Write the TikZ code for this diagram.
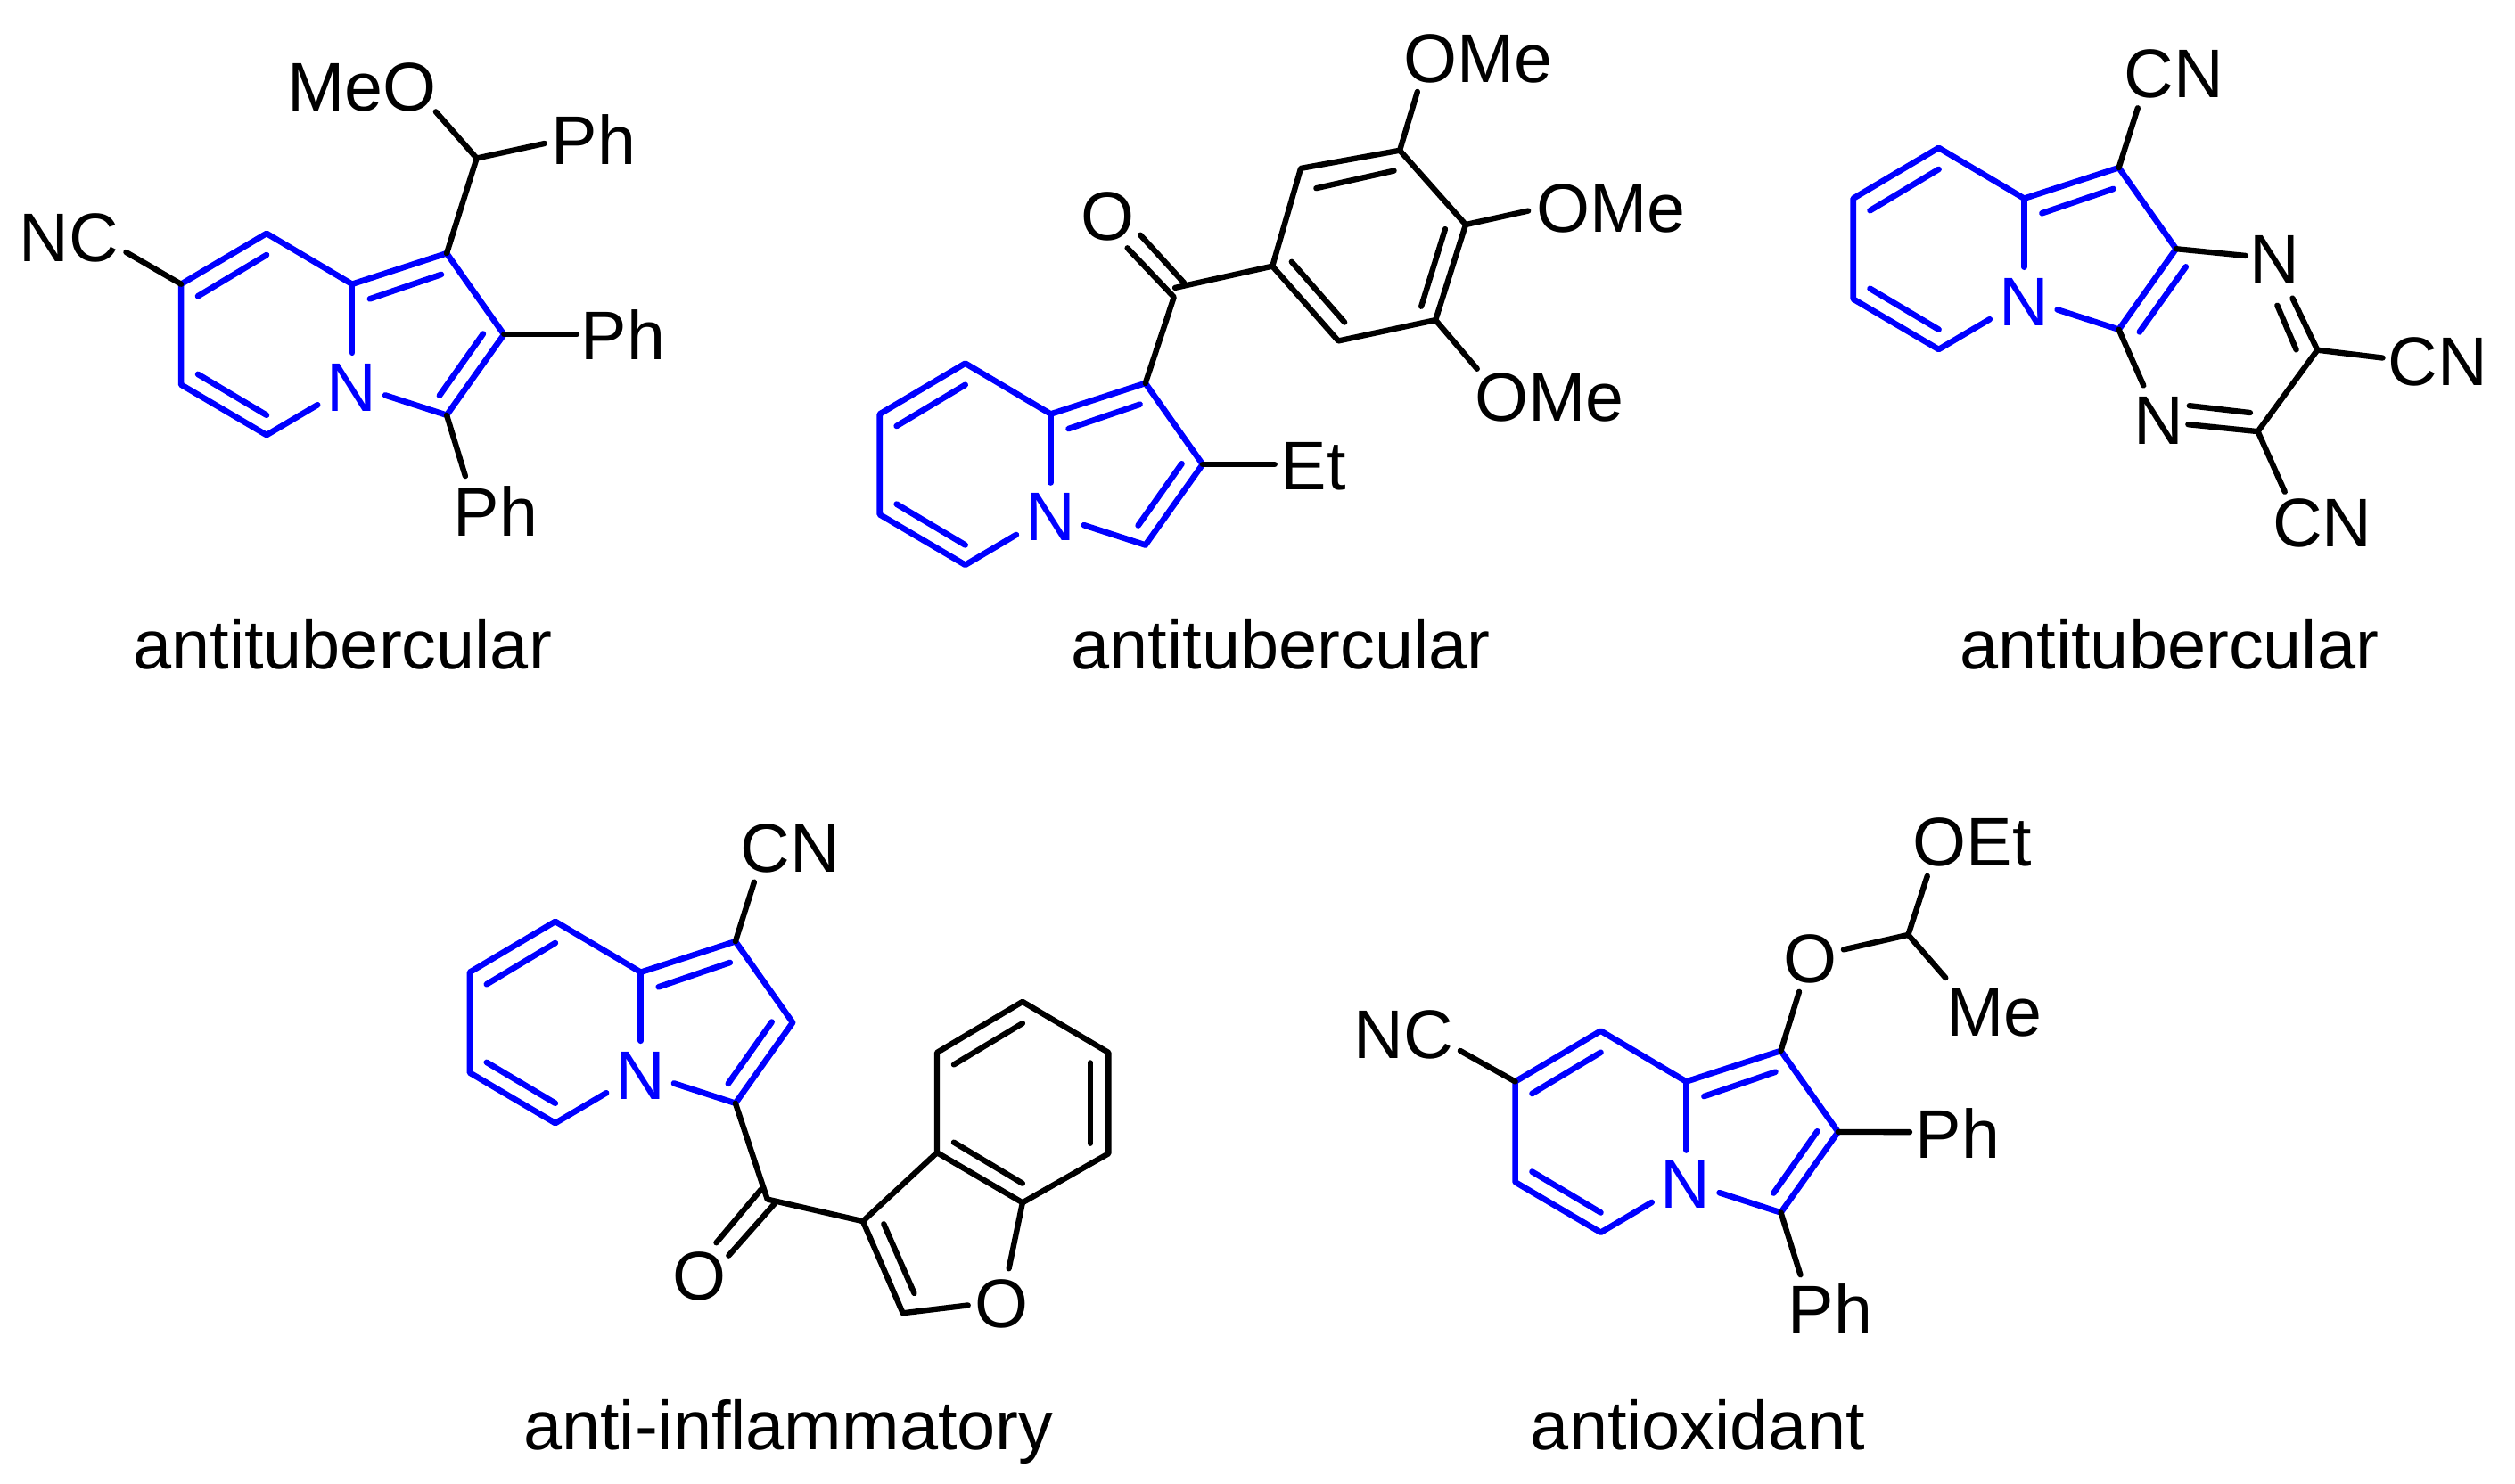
\documentclass[tikz,border=0pt]{standalone}
\usepackage{fontspec}
\setmainfont{Liberation Sans}
\definecolor{corecol}{RGB}{0,0,255}
\tikzset{
  x=0.01cm,y=-0.01cm,
  bond/.style={line width=1pt,line cap=round,line join=round,black},
  corebond/.style={line width=1.05pt,line cap=round,line join=round,corecol},
  atomlab/.style={anchor=base,inner sep=0pt,outer sep=0pt,font=\fontsize{12.2}{14}\selectfont},
  corelab/.style={atomlab,text=corecol},
  caption/.style={anchor=base,inner sep=0pt,outer sep=0pt,font=\fontsize{12.25}{14}\selectfont}
}
\newcommand{\pts}[1]{\foreach \n/\xx/\yy in {#1}{\coordinate (\n) at (\xx,\yy);}}
% indolizine core: #1 prefix, #2 #3 shift
\newcommand{\indolizine}[3]{%
  \begin{scope}[shift={(#2,#3)}]
    \coordinate (#1a) at (166.2,145.6);
    \coordinate (#1b) at (112.9,177.2);
    \coordinate (#1c) at (112.9,239.9);
    \coordinate (#1d) at (166.2,271.3);
    \coordinate (#1e) at (219.5,177.2);
    \coordinate (#1f) at (278.5,158);
    \coordinate (#1g) at (314.2,208.6);
    \coordinate (#1h) at (278.5,258.9);
    \coordinate (#1n1) at (219.5,220);
    \coordinate (#1n2) at (198,252.5);
    \coordinate (#1n3) at (240.2,246.5);
    \coordinate (#1i1) at (166.2,159);
    \coordinate (#1i2) at (123.4,184.7);
    \coordinate (#1i3) at (123.4,233.4);
    \coordinate (#1i4) at (166.2,258.9);
    \coordinate (#1i5) at (230.6,186.4);
    \coordinate (#1i6) at (275.1,171.2);
    \node[corelab] (#1N) at (219.2,256.3) {N};
    \draw[corebond] (#1n2) -- (#1d) -- (#1c) -- (#1b) -- (#1a) -- (#1e) -- (#1f) -- (#1g) -- (#1h) -- (#1n3);
    \draw[corebond] (#1e) -- (#1n1);
    \draw[corebond] (#1i1) -- (#1i2);
    \draw[corebond] (#1i3) -- (#1i4);
    \draw[corebond] (#1i5) -- (#1i6);
  \end{scope}}
\begin{document}
\begin{tikzpicture}
\useasboundingbox (0,0) rectangle (1568,925);
% ---------- molecule 1
\indolizine{p}{0}{0}
\pts{pch/297.2/98.7,pm1/271.7/69.7,pm2/339.5/89.5,pm3/359.6/208.6,pm4/290.1/296.9,pm5/78.6/157.3,pj1/301.2/208.2,pj2/274/246.7}
\draw[corebond] (pj1) -- (pj2);
\draw[bond] (pf) -- (pch) -- (pm1);
\draw[bond] (pch) -- (pm2);
\draw[bond] (pg) -- (pm3);
\draw[bond] (ph) -- (pm4);
\draw[bond] (pb) -- (pm5);
\node[atomlab] (pMeO) at (225.5,69.2) {MeO};
\node[atomlab] (pPh1) at (370.1,102.4) {Ph};
\node[atomlab] (pNC) at (43.2,162.9) {NC};
\node[atomlab] (pPh2) at (388.4,224.3) {Ph};
\node[atomlab] (pPh3) at (309.1,334.4) {Ph};
\node[caption] (pcap) at (213.5,417) {antitubercular};
% ---------- molecule 2
\indolizine{q}{435.6}{81}
\pts{qj1/736.8/289.2,qj2/709.6/327.7,
 qco/732.6/179.5,qo1/731.9/185.3,qo2/702.9/154.7,qo3/738.3/176.5,qo4/711/146.6,
 qr1/793.3/166,qr2/811/105,qr3/872.7/93.8,qr4/913.8/140.1,qr5/895/199.6,qr6/834.4/212.6,
 qk1/820.6/117.4,qk2/869.1/106.5,qk3/901/142.9,qk4/886.1/191.1,qk5/838.3/201,qk6/805.3/163.3,
 qe1/883.7/57.2,qe2/952.8/131.5,qe3/920.9/230,qe4/794.7/289.6}
\draw[corebond] (qj1) -- (qj2);
\draw[bond] (qf) -- (qo1) -- (qo2);
\draw[bond] (qo3) -- (qo4);
\draw[bond] (qco) -- (qr1);
\draw[bond] (qr1) -- (qr2) -- (qr3) -- (qr4) -- (qr5) -- (qr6) -- cycle;
\draw[bond] (qk1) -- (qk2);
\draw[bond] (qk3) -- (qk4);
\draw[bond] (qk5) -- (qk6);
\draw[bond] (qr3) -- (qe1);
\draw[bond] (qr4) -- (qe2);
\draw[bond] (qr5) -- (qe3);
\draw[bond] (qg) -- (qe4);
\node[atomlab] (qO) at (690.6,150) {O};
\node[atomlab] (qOMe1) at (921.6,51.4) {OMe};
\node[atomlab] (qOMe2) at (1004.2,144.8) {OMe};
\node[atomlab] (qOMe3) at (965.9,262.9) {OMe};
\node[atomlab] (qEt) at (818.8,305.4) {Et};
\node[caption] (qcap) at (798.5,417) {antitubercular};
% ---------- molecule 3
\indolizine{r}{1042.5}{-53.4}
\pts{rj1/1362.8/166.4,rj2/1333.9/207,
 re1/1332.8/67.4,re2/1400.1/159.5,re3/1429.3/186,rc1/1444.8/218.3,
 rk1/1419.8/190.5,rk2/1431.6/218.1,re4/1485.5/223.2,rc2/1407.7/269.1,
 re5/1364.2/264.7,rk3/1402.9/257.4,rk4/1365/253,re6/1336.4/240.4,re7/1424.5/306.7}
\draw[corebond] (rj1) -- (rj2);
\draw[bond] (rf) -- (re1);
\draw[bond] (rg) -- (re2);
\draw[bond] (re3) -- (rc1) -- (rc2) -- (re5);
\draw[bond] (rk1) -- (rk2);
\draw[bond] (rk3) -- (rk4);
\draw[bond] (rc1) -- (re4);
\draw[bond] (rh) -- (re6);
\draw[bond] (rc2) -- (re7);
\node[atomlab] (rCN1) at (1355.2,61) {CN};
\node[atomlab] (rN1) at (1418.2,176.7) {N};
\node[atomlab] (rCN2) at (1520,240.3) {CN};
\node[atomlab] (rN2) at (1346,277.3) {N};
\node[atomlab] (rCN3) at (1447.8,341) {CN};
\node[caption] (rcap) at (1352.5,417) {antitubercular};
% ---------- molecule 4
\indolizine{s}{180}{429.1}
\pts{sj1/481.2/637.3,sj2/454/675.8,
 se1/470.2/550.1,sco/478.4/747.9,so1/474.4/741.9,so2/446.6/775,so3/482.7/750.9,so4/454.3/783,
 st1/538/761.6,st2/584.2/718.8,st3/584.2/656.4,st4/637.5/624.7,st5/691.1/656.4,st6/691.1/719.4,st7/637.5/750,
 sk1/594.7/663.9,sk2/637.5/638.2,sk3/679.8/662.8,sk4/679.8/713,sk5/637.5/738,sk6/594.7/712.4,
 se2/629/791.1,st8/562.9/818.9,sk7/551/763.3,sk8/570/806.5,se3/603.5/814}
\draw[corebond] (sj1) -- (sj2);
\draw[bond] (sf) -- (se1);
\draw[bond] (sh) -- (sco) -- (st1) -- (st2) -- (st3) -- (st4) -- (st5) -- (st6) -- (st7) -- (st2);
\draw[bond] (so1) -- (so2);
\draw[bond] (so3) -- (so4);
\draw[bond] (sk1) -- (sk2);
\draw[bond] (sk3) -- (sk4);
\draw[bond] (sk5) -- (sk6);
\draw[bond] (st7) -- (se2);
\draw[bond] (st1) -- (st8) -- (se3);
\draw[bond] (sk7) -- (sk8);
\node[atomlab] (sCN) at (492.5,544) {CN};
\node[atomlab] (sO1) at (436,810.6) {O};
\node[atomlab] (sO2) at (624.3,827.8) {O};
\node[caption] (scap) at (491.5,904) {anti-inflammatory};
% ---------- molecule 5
\indolizine{u}{831.8}{497.3}
\pts{uj1/1133/705.5,uj2/1105.8/744,
 ue1/910.4/655.3,ue2/1121.7/618.5,ue3/1149.4/592.2,uch/1189.7/583,ue4/1201.6/546.3,ue5/1213/609.8,ue6/1190.6/706,ue7/1122.5/795}
\draw[corebond] (uj1) -- (uj2);
\draw[bond] (ub) -- (ue1);
\draw[bond] (uf) -- (ue2);
\draw[bond] (ue3) -- (uch) -- (ue4);
\draw[bond] (uch) -- (ue5);
\draw[bond] (ug) -- (ue6);
\draw[bond] (uh) -- (ue7);
\node[atomlab] (uNC) at (875.2,660.2) {NC};
\node[atomlab] (uO) at (1128.5,612.6) {O};
\node[atomlab] (uOEt) at (1229.7,540.2) {OEt};
\node[atomlab] (uMe) at (1243.3,646.4) {Me};
\node[atomlab] (uPh1) at (1220.5,722.2) {Ph};
\node[atomlab] (uPh2) at (1141.2,832) {Ph};
\node[caption] (ucap) at (1058.5,904) {antioxidant};
\end{tikzpicture}
\end{document}
